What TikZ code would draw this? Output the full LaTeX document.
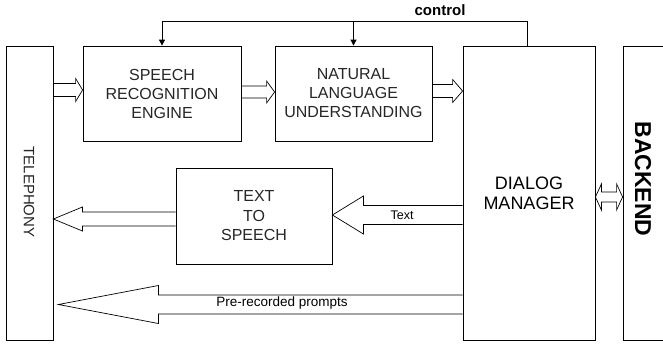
\documentclass[tikz,border=0pt]{standalone}
\usepackage{fontspec}
\setmainfont{Liberation Sans}
\usetikzlibrary{calc, arrows.meta}

\tikzset{
  blk/.style={draw, line width=0.8pt, inner sep=0pt, align=center, text=black!85},
  ctrl/.style={line width=0.8pt, -{Triangle[length=6pt,width=6pt]}},
  hollow/.style={draw, line width=0.7pt},
}

% hollow block arrow: start, tip, shaft half, head half, head length
\newcommand{\blockarrow}[5]{%
  \draw[hollow] let \p1=#1, \p2=#2, \n1={ifthenelse(\x2>\x1,1,-1)} in
    (\x1,\y1+#3) -- ({\x2-\n1*#5},\y1+#3) -- ({\x2-\n1*#5},\y1+#4) -- (\x2,\y1)
    -- ({\x2-\n1*#5},\y1-#4) -- ({\x2-\n1*#5},\y1-#3) -- (\x1,\y1-#3);}
% two headed one
\newcommand{\dblarrow}[5]{%
  \draw[hollow] let \p1=#1, \p2=#2 in
    (\x1,\y1) -- ({\x1+#5},\y1+#4) -- ({\x1+#5},\y1+#3) -- ({\x2-#5},\y1+#3)
    -- ({\x2-#5},\y1+#4) -- (\x2,\y1) -- ({\x2-#5},\y1-#4) -- ({\x2-#5},\y1-#3)
    -- ({\x1+#5},\y1-#3) -- ({\x1+#5},\y1-#4) -- cycle;}

\begin{document}
\begin{tikzpicture}[x=1pt, y=-1pt]
\useasboundingbox (0,0) rectangle (663,343);
\clip (0,0) rectangle (663,343);

\node[blk, minimum width=47, minimum height=294] (tel) at (29.5,193) {};
\node[text=black!85, rotate=-90, font=\fontsize{15}{18}\selectfont] (tellbl) at (29,192) {TELEPHONY};
\node[blk, minimum width=158, minimum height=95, font=\fontsize{16}{19}\selectfont] (sr) at (162,93.5) {SPEECH\\RECOGNITION\\ENGINE};
\node[blk, minimum width=157, minimum height=95, font=\fontsize{16}{19}\selectfont] (nlu) at (353.5,93.5) {NATURAL\\LANGUAGE\\UNDERSTANDING};
\node[blk, minimum width=132, minimum height=294, text=black, font=\fontsize{18}{20}\selectfont] (dm) at (529,193) {DIALOG\\MANAGER};
\node[blk, minimum width=156, minimum height=96, font=\fontsize{16}{19.5}\selectfont] (tts) at (254,216) {TEXT\\TO\\SPEECH};
\node[blk, minimum width=80, minimum height=294] (be) at (663,193) {};
\node[rotate=-90, font=\bfseries\fontsize{23}{26}\selectfont] (belbl) at (643,179) {BACKEND};

% control loop
\coordinate (ctltop) at (0,21);
\draw[ctrl] ([xshift=-2pt]dm.north) |- (sr.north |- ctltop) -- (sr.north);
\draw[ctrl] (nlu.north |- ctltop) -- (nlu.north);
\node[font=\bfseries\fontsize{15}{18}\selectfont] (ctllbl) at (440,10) {control};

% block arrows
\blockarrow{(tel.east |- 0,90)}{(sr.west |- 0,90)}{6.5pt}{11.5pt}{7pt}
\blockarrow{(sr.east |- 0,92)}{(nlu.west |- 0,92)}{6pt}{11pt}{8pt}
\blockarrow{(nlu.east |- 0,91)}{(dm.west |- 0,91)}{6.5pt}{11.5pt}{10pt}
\blockarrow{(dm.west |- 0,215)}{(tts.east |- 0,215)}{9.5pt}{19pt}{31pt}
\blockarrow{(tts.west |- 0,219)}{(tel.east |- 0,219)}{7pt}{12pt}{29pt}
\blockarrow{(dm.west |- 0,304.5)}{($(tel.east |- 0,304.5)+(5,0)$)}{9.5pt}{19pt}{100pt}
\dblarrow{(dm.east |- 0,197)}{(be.west |- 0,197)}{5pt}{13pt}{6pt}

\node[font=\fontsize{12.5}{15}\selectfont] (txtlbl) at (402,215) {Text};
\node[font=\fontsize{13.5}{16}\selectfont] (prlbl) at (282,303) {Pre-recorded prompts};
\end{tikzpicture}
\end{document}
